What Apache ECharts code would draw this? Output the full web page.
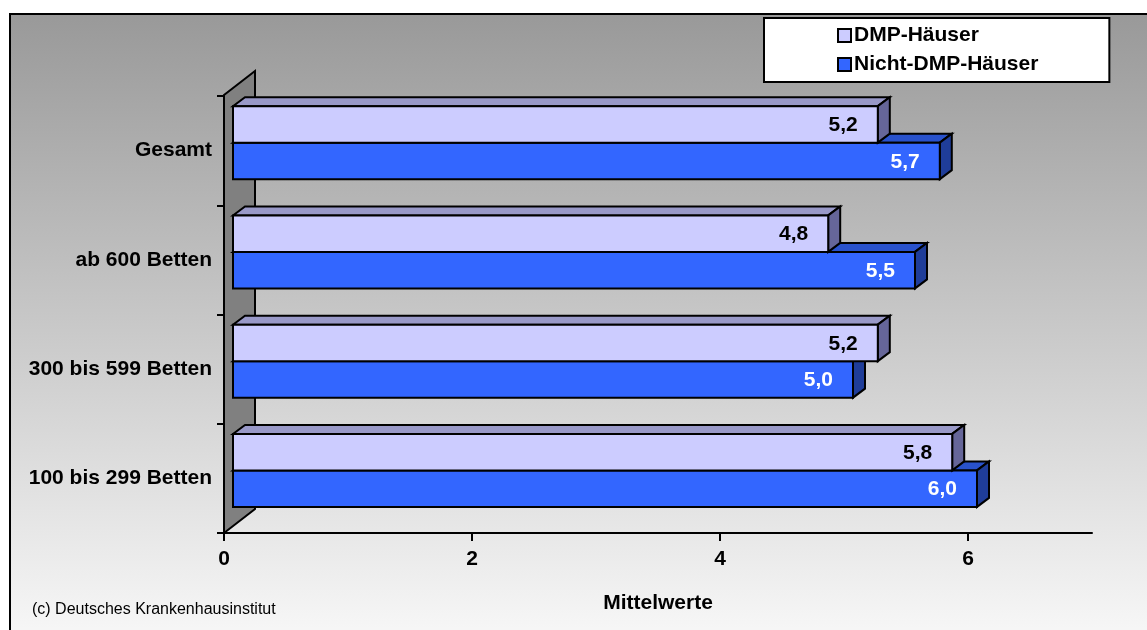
<!DOCTYPE html>
<html>
<head>
<meta charset="utf-8">
<script src="https://cdn.jsdelivr.net/npm/echarts@6/dist/echarts.min.js"></script>
<style>
  html, body { margin: 0; padding: 0; background: #ffffff; }
  #chart { width: 1147px; height: 630px; }
</style>
</head>
<body>
<div id="chart"></div>
<script>
// Mittelwerte nach Bettengrößenklasse, DMP- vs. Nicht-DMP-Häuser
const categories = ['Gesamt', 'ab 600 Betten', '300 bis 599 Betten', '100 bis 299 Betten'];
const dmpValues = [5.2, 4.8, 5.2, 5.8];
const nichtDmpValues = [5.7, 5.5, 5.0, 6.0];
const xTickValues = [0, 2, 4, 6];
const seriesNames = ['DMP-Häuser', 'Nicht-DMP-Häuser'];

const FONT = '"Liberation Sans", Arial, Helvetica, sans-serif';

// shading for the pseudo-3D boxes: front, top, side
const palettes = [
  { front: '#CCCCFF', top: '#9999C8', side: '#666699', label: '#000000' },
  { front: '#3366FF', top: '#2952CC', side: '#1F3D99', label: '#FFFFFF' }
];

// depth of the boxes and of the back wall, in pixels
const BAR_OFFSET = 9;     // front face shift from the axis origin
const BAR_DX = 12, BAR_DY = -9;
const WALL_DX = 31, WALL_DY = -24;

function fmt(v) { return v.toFixed(1).replace('.', ','); }

function makeBarRenderer(slot) {
  const pal = palettes[slot];
  return function (params, api) {
    const idx = api.value(1);
    const val = api.value(0);
    const base = api.coord([0, idx]);
    const end = api.coord([val, idx]);
    const band = api.size([0, 1])[1];
    const h = band * 0.334;
    const top = base[1] - band * 0.407 + slot * h;
    const x0 = base[0] + BAR_OFFSET;
    const x1 = end[0] + BAR_OFFSET;
    const stroke = { stroke: '#000', lineWidth: 2, lineJoin: 'miter' };
    return {
      type: 'group',
      children: [
        {
          type: 'polygon',
          shape: { points: [[x0, top], [x1, top], [x1 + BAR_DX, top + BAR_DY], [x0 + BAR_DX, top + BAR_DY]] },
          style: Object.assign({ fill: pal.top }, stroke)
        },
        {
          type: 'polygon',
          shape: { points: [[x1, top], [x1 + BAR_DX, top + BAR_DY], [x1 + BAR_DX, top + h + BAR_DY], [x1, top + h]] },
          style: Object.assign({ fill: pal.side }, stroke)
        },
        {
          type: 'rect',
          shape: { x: x0, y: top, width: x1 - x0, height: h },
          style: Object.assign({ fill: pal.front }, stroke)
        },
        {
          type: 'text',
          style: {
            text: fmt(val),
            x: x1 - 20,
            y: top + h / 2 + 1,
            align: 'right',
            verticalAlign: 'middle',
            fill: pal.label,
            font: 'bold 21px ' + FONT
          }
        }
      ]
    };
  };
}

function renderWall(params, api) {
  const cs = params.coordSys;
  const x = cs.x, y = cs.y, h = cs.height;
  return {
    type: 'polygon',
    shape: { points: [[x, y - 1], [x + WALL_DX, y - 1 + WALL_DY], [x + WALL_DX, y + h + WALL_DY], [x, y + h]] },
    style: { fill: '#808080', stroke: '#000', lineWidth: 2 }
  };
}

const chart = echarts.init(document.getElementById('chart'), null, { renderer: 'canvas' });

chart.setOption({
  backgroundColor: '#ffffff',
  animation: false,
  textStyle: { fontFamily: FONT },
  graphic: [
    {
      type: 'rect',
      z: -10,
      silent: true,
      shape: { x: 10, y: 14, width: 1160, height: 640 },
      style: {
        fill: new echarts.graphic.LinearGradient(0, 0, 0, 1, [
          { offset: 0, color: '#999999' },
          { offset: 1, color: '#FAFAFA' }
        ]),
        stroke: '#000',
        lineWidth: 2
      }
    },
    {
      type: 'text',
      left: 32,
      top: 602,
      silent: true,
      style: {
        text: '(c) Deutsches Krankenhausinstitut',
        font: '16px ' + FONT,
        fill: '#000'
      }
    }
  ],
  legend: {
    data: seriesNames,
    orient: 'vertical',
    left: 764,
    top: 18,
    padding: [7, 71, 7, 73],
    itemGap: 8,
    itemWidth: 13,
    itemHeight: 13,
    icon: 'rect',
    itemStyle: { borderColor: '#000', borderWidth: 2 },
    backgroundColor: '#ffffff',
    borderColor: '#000',
    borderWidth: 2,
    borderRadius: 0,
    selectedMode: false,
    textStyle: { fontFamily: FONT, fontSize: 21, fontWeight: 'bold', color: '#000', lineHeight: 21, padding: [0, 0, 0, -2] }
  },
  grid: { left: 224, right: 55, top: 96, bottom: 97, containLabel: false },
  xAxis: {
    type: 'value',
    min: 0,
    max: 7,
    interval: 1,
    name: 'Mittelwerte',
    nameLocation: 'middle',
    nameGap: 60,
    nameTextStyle: { fontFamily: FONT, fontSize: 21, fontWeight: 'bold', color: '#000' },
    axisLine: { show: true, onZero: false, lineStyle: { color: '#000', width: 2 } },
    axisTick: { show: true, length: 8, lineStyle: { color: '#000', width: 2 }, customValues: xTickValues },
    axisLabel: { margin: 16, fontFamily: FONT, fontSize: 21, fontWeight: 'bold', color: '#000', customValues: xTickValues },
    splitLine: { show: false }
  },
  yAxis: {
    type: 'category',
    data: categories,
    inverse: true,
    axisLine: { show: true, lineStyle: { color: '#000', width: 2 } },
    axisTick: { show: true, length: 7, alignWithLabel: false, lineStyle: { color: '#000', width: 2 } },
    axisLabel: { margin: 12, fontFamily: FONT, fontSize: 21, fontWeight: 'bold', color: '#000' },
    splitLine: { show: false }
  },
  series: [
    {
      name: 'wall',
      type: 'custom',
      z: 1,
      silent: true,
      renderItem: renderWall,
      data: [[0, 0]],
      encode: { x: 0, y: 1 }
    },
    {
      name: seriesNames[1],
      type: 'custom',
      z: 2,
      itemStyle: { color: palettes[1].front },
      renderItem: makeBarRenderer(1),
      data: nichtDmpValues.map((v, i) => [v, i]),
      encode: { x: 0, y: 1 }
    },
    {
      name: seriesNames[0],
      type: 'custom',
      z: 3,
      itemStyle: { color: palettes[0].front },
      renderItem: makeBarRenderer(0),
      data: dmpValues.map((v, i) => [v, i]),
      encode: { x: 0, y: 1 }
    }
  ]
});
</script>
</body>
</html>
